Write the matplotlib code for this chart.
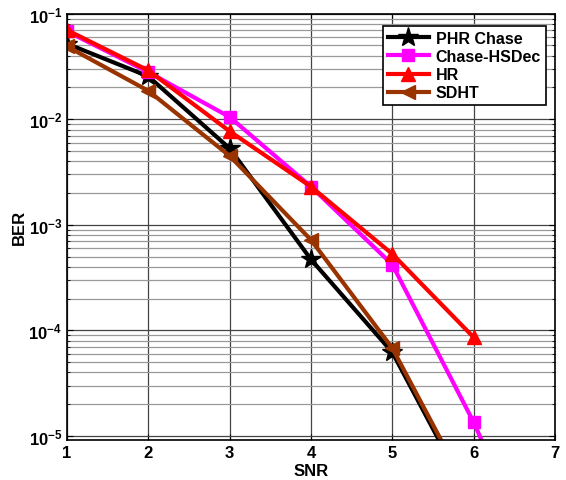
import matplotlib
matplotlib.use("Agg")
import matplotlib.pyplot as plt
from matplotlib.ticker import LogLocator, NullFormatter

plt.rcParams['font.family'] = ['Liberation Sans', 'DejaVu Sans']
plt.rcParams['font.weight'] = 'bold'

snr = [1, 2, 3, 4, 5, 6]
snr_hsdec = [1, 2, 3, 4, 5, 6, 7]

ber_phr = [0.052, 0.0255, 0.0053, 4.7e-4, 6.2e-5, 2.2e-6]
ber_hsdec = [0.068, 0.028, 0.0105, 0.0023, 4.2e-4, 1.35e-5, 2.5e-7]
ber_hr = [0.070, 0.029, 0.0077, 0.0023, 5.3e-4, 8.6e-5]
ber_sdht = [0.049, 0.0186, 0.0045, 7.2e-4, 6.8e-5, 2.4e-6]

fig = plt.figure(figsize=(5.66, 4.81), dpi=100)
ax = fig.add_axes([67 / 566, 1 - 441 / 481, (555 - 67) / 566, (441 - 14.7) / 481])

ax.semilogy(snr, ber_phr, color='black', lw=3, marker='*', ms=15, label='PHR Chase')
ax.semilogy(snr_hsdec, ber_hsdec, color='#ff00ff', lw=3, marker='s', ms=8, label='Chase-HSDec')
ax.semilogy(snr, ber_hr, color='#ff0000', lw=3, marker='^', ms=10, label='HR')
ax.semilogy(snr, ber_sdht, color='#993300', lw=3, marker='<', ms=10, label='SDHT')

ax.set_xlim(1, 7)
ax.set_ylim(0.917e-5, 1e-1)
ax.set_xticks(range(1, 8))
ax.yaxis.set_major_locator(LogLocator(base=10, numticks=10))
ax.yaxis.set_minor_locator(LogLocator(base=10, subs=range(2, 10), numticks=50))
ax.yaxis.set_minor_formatter(NullFormatter())

ax.grid(True, which='major', color='#444444', lw=0.9)
ax.grid(True, which='minor', axis='y', color='#999999', lw=0.9)
ax.tick_params(which='both', direction='in', top=True, right=True, labelsize=12)
ax.tick_params(which='major', length=4)
ax.tick_params(which='minor', length=2)
for s in ax.spines.values():
    s.set_linewidth(1.2)

ax.set_xlabel('SNR', fontsize=12, fontweight='bold', labelpad=2)
ax.set_ylabel('BER', fontsize=12, fontweight='bold')
ax.yaxis.set_label_coords(-40 / 488, 0.5)

leg = ax.legend(loc='upper right', bbox_to_anchor=(0.997, 0.99), fontsize=11.5,
                fancybox=False, edgecolor='black', framealpha=1,
                handlelength=2.6, borderpad=0.3, labelspacing=0.2, handletextpad=0.4)
leg.get_frame().set_linewidth(1.2)

fig.savefig('out.png', dpi=100)
